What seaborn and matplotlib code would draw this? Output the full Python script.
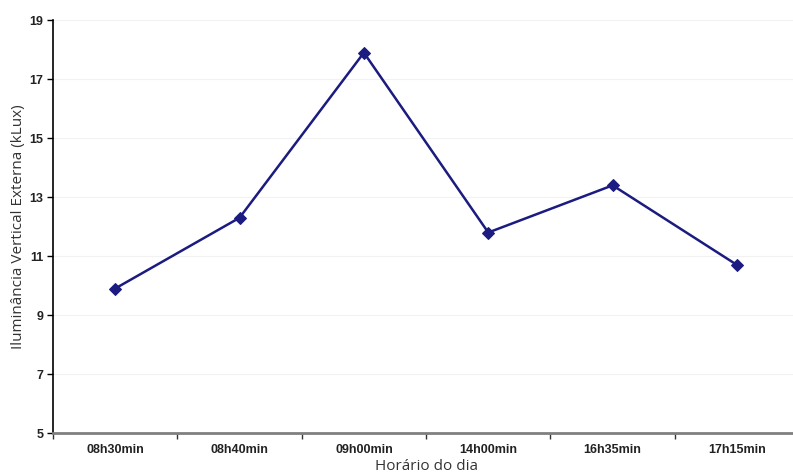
import matplotlib
matplotlib.use("Agg")
import matplotlib.pyplot as plt
import pandas as pd
import seaborn as sns

# data
horarios = ["08h30min", "08h40min", "09h00min", "14h00min", "16h35min", "17h15min"]
iluminancia = [9.9, 12.3, 17.9, 11.8, 13.4, 10.7]
y_ticks = [5, 7, 9, 11, 13, 15, 17, 19]

df = pd.DataFrame({"horario": horarios, "klux": iluminancia})
df["pos"] = range(len(df))

sns.set_theme(style="white")
plt.rcParams["font.family"] = ["Liberation Sans Narrow", "Liberation Sans", "DejaVu Sans"]

fig = plt.figure(figsize=(7.93, 4.75), dpi=100)
ax = fig.add_axes([0.0668, 0.0884, 0.941, 0.869])

for y in y_ticks[1:]:
    ax.axhline(y, color="#f2f2f2", lw=0.8, zorder=0)

sns.lineplot(data=df, x="pos", y="klux", ax=ax, color="#1b1b80", lw=1.8,
             marker="D", markersize=6, markeredgecolor="#1b1b80")

ax.set_xlim(-0.5, len(horarios) - 0.5)
ax.set_ylim(5, 19)
ax.set_yticks(y_ticks)
ax.set_yticklabels([str(v) for v in y_ticks], fontsize=9, fontweight="bold", color="#222222")
ax.set_xticks(range(len(horarios)))
ax.set_xticklabels(horarios, fontsize=9, fontweight="bold", color="#222222")
ax.set_xticks([i - 0.5 for i in range(len(horarios) + 1)], minor=True)
ax.tick_params(axis="x", which="major", length=0, pad=8)
ax.tick_params(axis="x", which="minor", length=4, width=1, color="#333333", direction="out", bottom=True)
ax.tick_params(axis="y", length=4, width=1, color="black", direction="out", left=True, pad=3)

for side in ["top", "right"]:
    ax.spines[side].set_visible(False)
ax.spines["left"].set_color("black")
ax.spines["left"].set_linewidth(1.2)
ax.spines["bottom"].set_color("#808080")
ax.spines["bottom"].set_linewidth(2)

ax.set_xlabel("Horário do dia", fontsize=11, family=["Open Sans", "DejaVu Sans"], color="#333333", labelpad=2)
ax.set_ylabel("Iluminância Vertical Externa (kLux)", fontsize=11, family=["Open Sans", "DejaVu Sans"],
              color="#333333", labelpad=2)

fig.savefig("out.png", dpi=100)
